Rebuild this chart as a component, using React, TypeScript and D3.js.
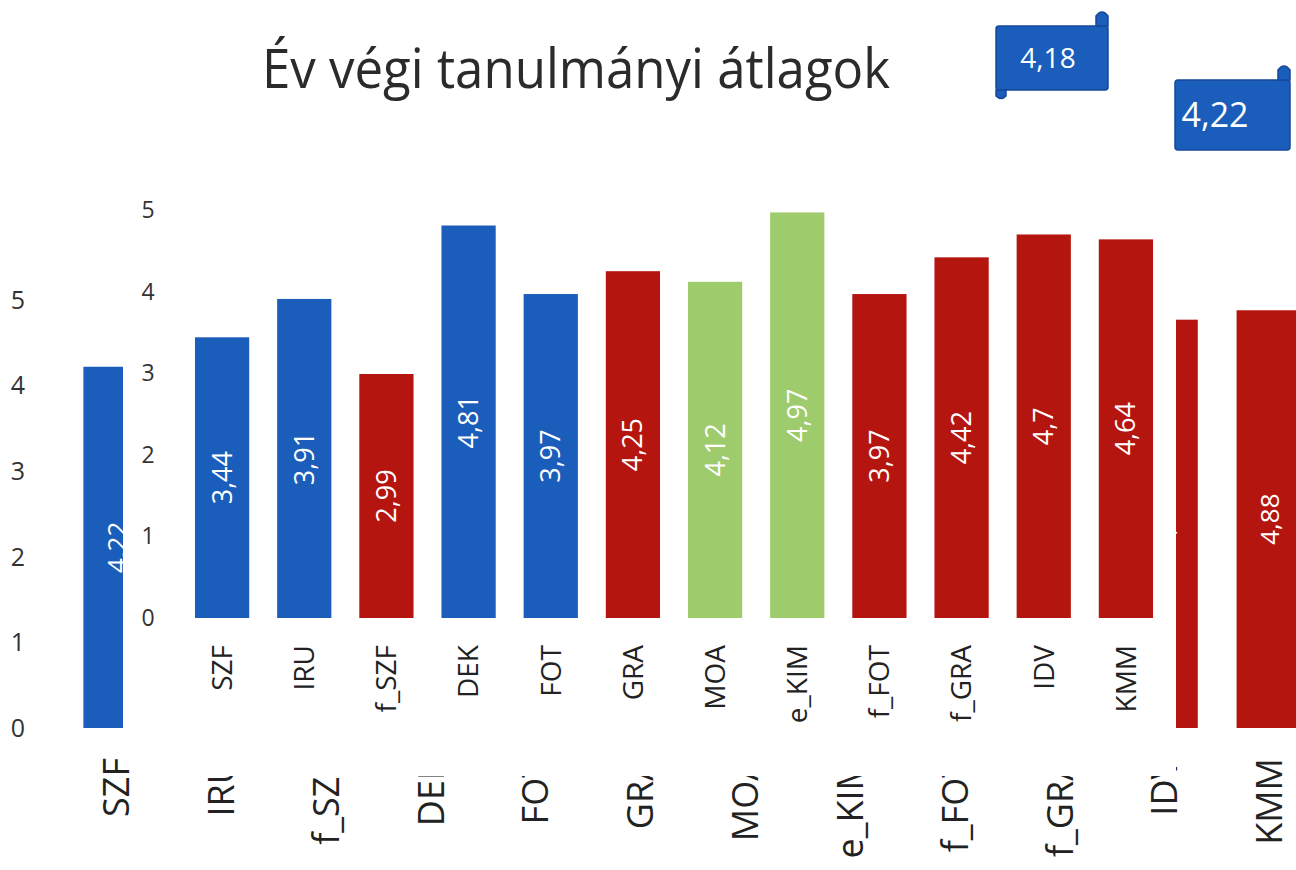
import React from "react";
import * as d3 from "d3";

// categories shared by both overlapping charts
const categories = ["SZF", "IRU", "f_SZF", "DEK", "FOT", "GRA", "MOA", "e_KIM", "f_FOT", "f_GRA", "IDV", "KMM"];

// front chart (fully visible)
const frontValues = [3.44, 3.91, 2.99, 4.81, 3.97, 4.25, 4.12, 4.97, 3.97, 4.42, 4.7, 4.64];
const frontGroups = ["b", "b", "r", "b", "b", "r", "g", "g", "r", "r", "r", "r"];

// back chart: only the uncovered bars can be read
const backValues: (number | null)[] = [4.22, null, null, null, null, null, null, null, null, null, 4.77, 4.88];
const backGroups = ["b", "b", "r", "b", "b", "r", "g", "g", "r", "r", "r", "r"];

const yTicks = [0, 1, 2, 3, 4, 5];

// flag callouts
const flagValues = ["4,18", "4,22"];

const colors: Record<string, string> = { b: "#1b5dba", r: "#b5150f", g: "#9ecb6c" };
const font = "'Open Sans', 'DejaVu Sans', sans-serif";
const textColor = "#333";

const fmt = (v: number) => String(v).replace(".", ",");

export default function App() {
  const W = 1296;
  const H = 870;

  // back chart scales
  const yBack = d3.scaleLinear().domain([0, 5]).range([728, 300]);
  const xBack = d3
    .scaleBand()
    .domain(categories)
    .range([64, 1322])
    .paddingInner(0.37)
    .paddingOuter(0.185);

  // front chart scales
  const yFront = d3.scaleLinear().domain([0, 5]).range([618, 210]);
  const xFront = d3
    .scaleBand()
    .domain(categories)
    .range([181, 1167])
    .paddingInner(0.34)
    .paddingOuter(0.17);

  const flags = [
    { x: 996, y: 26, w: 112, h: 64, size: 28, tx: 1048 },
    { x: 1175, y: 80, w: 115, h: 70, size: 34, tx: 1215 }
  ];

  return (
    <div style={{ position: "absolute", left: 0, top: 0 }}>
      <svg width={W} height={H} style={{ display: "block", background: "#fff" }}>
        {/* back chart */}
        <g>
          {yTicks.map(t => (
            <text
              key={"by" + t}
              x={18}
              y={yBack(t)}
              dy="0.35em"
              textAnchor="middle"
              fontFamily={font}
              fontSize={25}
              fill={textColor}
            >
              {t}
            </text>
          ))}
          {categories.map((c, i) => {
            const v = backValues[i];
            if (v == null) return null;
            const x = xBack(c)!;
            const bw = xBack.bandwidth();
            return (
              <g key={"bb" + c}>
                <rect x={x} y={yBack(v)} width={bw} height={yBack(0) - yBack(v)} fill={colors[backGroups[i]]} />
                <text
                  transform={`translate(${x + bw / 2},${(yBack(v) + yBack(0)) / 2}) rotate(-90)`}
                  dy="0.35em"
                  textAnchor="middle"
                  fontFamily={font}
                  fontSize={26}
                  fill="#fff"
                >
                  {fmt(v)}
                </text>
              </g>
            );
          })}
          {categories.map(c => (
            <text
              key={"bl" + c}
              transform={`translate(${xBack(c)! + xBack.bandwidth() / 2},758) rotate(-90)`}
              dy="0.35em"
              textAnchor="end"
              fontFamily={font}
              fontSize={36}
              fill="#222"
            >
              {c}
            </text>
          ))}
        </g>

        {/* white plate of the front chart covering the back one */}
        <rect x={123} y={185} width={1053} height={563} fill="#fff" />
        <rect x={150} y={748} width={1026} height={28} fill="#fff" />

        {/* front chart */}
        <g>
          {yTicks.map(t => (
            <text
              key={"fy" + t}
              x={148}
              y={yFront(t)}
              dy="0.35em"
              textAnchor="middle"
              fontFamily={font}
              fontSize={23}
              fill={textColor}
            >
              {t}
            </text>
          ))}
          {categories.map((c, i) => {
            const v = frontValues[i];
            const x = xFront(c)!;
            const bw = xFront.bandwidth();
            return (
              <g key={"fb" + c}>
                <rect x={x} y={yFront(v)} width={bw} height={yFront(0) - yFront(v)} fill={colors[frontGroups[i]]} />
                <text
                  transform={`translate(${x + bw / 2},${(yFront(v) + yFront(0)) / 2}) rotate(-90)`}
                  dy="0.35em"
                  textAnchor="middle"
                  fontFamily={font}
                  fontSize={27}
                  fill="#fff"
                >
                  {fmt(v)}
                </text>
              </g>
            );
          })}
          {categories.map(c => (
            <text
              key={"fl" + c}
              transform={`translate(${xFront(c)! + xFront.bandwidth() / 2},645) rotate(-90)`}
              dy="0.35em"
              textAnchor="end"
              fontFamily={font}
              fontSize={28}
              fill="#222"
            >
              {c}
            </text>
          ))}
        </g>

        {/* title */}
        <text
          x={262}
          y={88}
          textLength={628}
          lengthAdjust="spacingAndGlyphs"
          fontFamily={font}
          fontSize={54}
          fill="#2b2b2b"
        >
          Év végi tanulmányi átlagok
        </text>

        {/* scroll flags */}
        {flags.map((f, i) => (
          <g key={"flag" + i}>
            <rect x={f.x} y={f.y} width={f.w} height={f.h} rx={3} fill="#1b5dba" stroke="#16489a" strokeWidth={1.5} />
            <path
              d={`M${f.x + f.w - 12},${f.y} L${f.x + f.w - 12},${f.y - 10} Q${f.x + f.w - 6},${f.y - 18} ${f.x + f.w},${f.y - 10} L${f.x + f.w},${f.y} Z`}
              fill="#1b5dba"
              stroke="#16489a"
              strokeWidth={1.5}
            />
            {i === 0 && (
              <path
                d={`M${f.x},${f.y + f.h} L${f.x},${f.y + f.h + 6} Q${f.x + 5},${f.y + f.h + 11} ${f.x + 10},${f.y + f.h + 6} L${f.x + 10},${f.y + f.h} Z`}
                fill="#1b5dba"
                stroke="#16489a"
                strokeWidth={1.5}
              />
            )}
            <text
              x={f.tx}
              y={f.y + f.h / 2}
              dy="0.35em"
              textAnchor="middle"
              fontFamily={font}
              fontSize={f.size}
              fill="#fff"
            >
              {flagValues[i]}
            </text>
          </g>
        ))}
      </svg>
    </div>
  );
}
